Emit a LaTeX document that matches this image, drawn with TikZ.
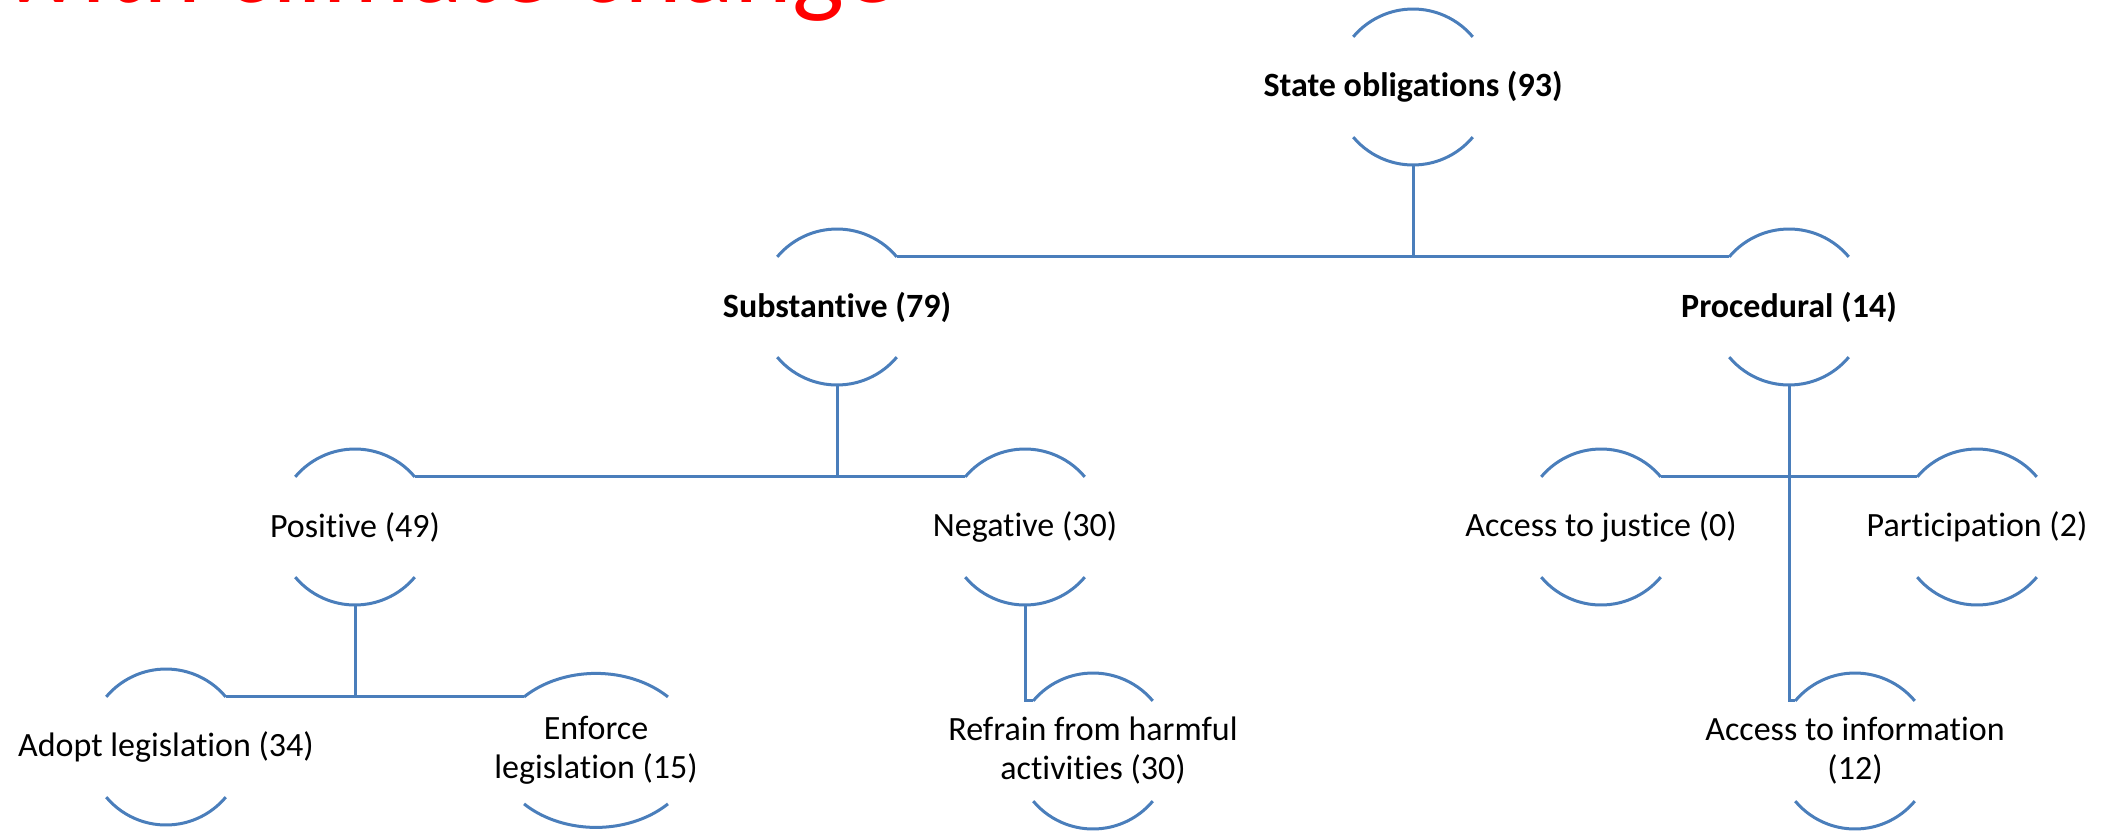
\documentclass[tikz,border=0pt]{standalone}
\usepackage{fontspec}
\setmainfont{Carlito}[RawFeature={-liga,-dlig,-calt}]
\usepackage{tikz}
\usetikzlibrary{calc}
\definecolor{chartline}{HTML}{4A7EBB}
\definecolor{titlered}{HTML}{FF0000}

\begin{document}
\begin{tikzpicture}[
  x=0.5pt, y=0.5pt,
  every node/.style={font=\fontsize{17}{19.5}\selectfont, inner sep=0pt, align=center},
  head/.style={font=\fontsize{17}{19.5}\selectfont\bfseries},
  ring/.style={draw=chartline, line width=1.5pt},
  link/.style={draw=chartline, line width=1.5pt}
]
\useasboundingbox (0,0) rectangle (2103,-830);

% slide title, cut off at the top
\node[anchor=base west, text=titlered, font=\fontsize{55}{60}\selectfont] (title) at (2,-3) {with climate change};

\node[head] (so)  at (1413,-87)  {State obligations (93)};
\node[head] (sub) at (837,-307)  {Substantive (79)};
\node[head] (pro) at (1789,-307) {Procedural (14)};
\node (pos) at (355,-527)  {Positive (49)};
\node (neg) at (1025,-527) {Negative (30)};
\node (jus) at (1601,-527) {Access to justice (0)};
\node (par) at (1977,-527) {Participation (2)};
\node (ado) at (166,-747)  {Adopt legislation (34)};
\node (enf) at (596,-750.4) {Enforce\\legislation (15)};
\node (ref) at (1093,-751) {Refrain from harmful\\activities (30)};
\node (inf) at (1855,-751) {Access to information\\(12)};

% half circles
\foreach \n in {so,sub,pro,pos,neg,jus,par,ado,ref,inf}{
  \draw[ring] ($(\n.center)+(40:78)$) arc[start angle=40, end angle=140, radius=78];
  \draw[ring] ($(\n.center)+(220:78)$) arc[start angle=220, end angle=320, radius=78];
  \coordinate (\n-l) at ($(\n.center)+(140:78)$);
  \coordinate (\n-r) at ($(\n.center)+(40:78)$);
  \coordinate (\n-b) at ($(\n.center)+(0,-78)$);
}
\draw[ring] ($(enf.center)+(44:100 and 77)$) arc[start angle=44, end angle=136, x radius=100, y radius=77];
\draw[ring] ($(enf.center)+(224:100 and 77)$) arc[start angle=224, end angle=316, x radius=100, y radius=77];
\coordinate (enf-l) at ($(enf.center)+(136:100 and 77)$);

\draw[link] (so-b) -- (so-b |- sub-r);
\draw[link] (sub-r) -- (pro-l);
\draw[link] (sub-b) -- (sub-b |- pos-r);
\draw[link] (pos-r) -- (neg-l);
\draw[link] (pos-b) -- (pos-b |- ado-r);
\draw[link] (ado-r) -- (ado-r -| enf-l);
\draw[link] (neg-b) |- (ref-l);
\draw[link] (pro-b) |- (inf-l);
\draw[link] (jus-r) -- (par-l);
\end{tikzpicture}
\end{document}
